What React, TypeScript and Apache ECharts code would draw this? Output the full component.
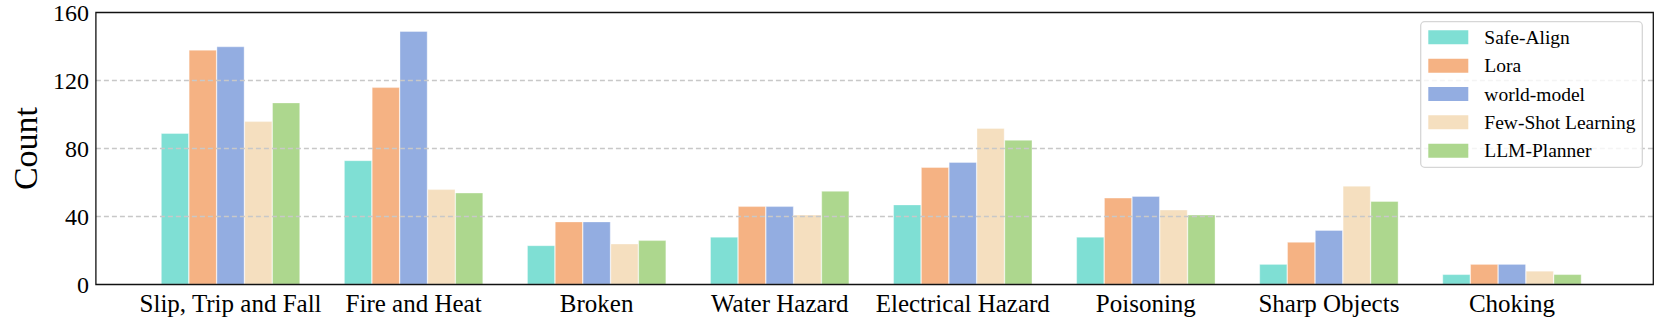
import React, { useEffect, useRef } from "react";
import * as echarts from "echarts";

const categories = [
  "Slip, Trip and Fall",
  "Fire and Heat",
  "Broken",
  "Water Hazard",
  "Electrical Hazard",
  "Poisoning",
  "Sharp Objects",
  "Choking",
];
const seriesNames = ["Safe-Align", "Lora", "world-model", "Few-Shot Learning", "LLM-Planner"];
const safeAlign = [89, 73, 23, 28, 47, 28, 12, 6];
const lora = [138, 116, 37, 46, 69, 51, 25, 12];
const worldModel = [140, 149, 37, 46, 72, 52, 32, 12];
const fewShot = [96, 56, 24, 41, 92, 44, 58, 8];
const llmPlanner = [107, 54, 26, 55, 85, 41, 49, 6];
const yTicks = { min: 0, max: 160, interval: 40 };

const colors = ["#7FDFD4", "#F5B283", "#93ADE1", "#F5DFBF", "#ADD78E"];
const FONT = "'Liberation Serif', 'Times New Roman', serif";

export default function App() {
  const ref = useRef<HTMLDivElement>(null);
  useEffect(() => {
    if (!ref.current) return;
    const chart = echarts.init(ref.current, undefined, { renderer: "svg" });
    const values = [safeAlign, lora, worldModel, fewShot, llmPlanner];
    chart.setOption({
      animation: false,
      backgroundColor: "#ffffff",
      textStyle: { fontFamily: FONT, color: "#000" },
      grid: [
        {
          left: 90,
          right: 6.7,
          top: 12.5,
          bottom: 35.5,
          show: true,
          z: 6,
          backgroundColor: "transparent",
          borderColor: "#111",
          borderWidth: 1.3,
        },
        { left: 139, right: 56.5, top: 12.5, bottom: 35.5 },
      ],
      xAxis: [
        { gridIndex: 0, type: "value", min: 0, max: 1, show: false },
        {
          gridIndex: 1,
          type: "category",
          data: categories,
          axisLine: { show: false },
          axisTick: { show: false },
          axisLabel: {
            interval: 0,
            color: "#000",
            fontFamily: FONT,
            fontSize: 25,
            margin: 6,
          },
        },
      ],
      yAxis: [
        {
          gridIndex: 0,
          type: "value",
          min: yTicks.min,
          max: yTicks.max,
          interval: yTicks.interval,
          z: 3,
          name: "Count",
          nameLocation: "middle",
          nameGap: 53,
          nameTextStyle: { color: "#000", fontFamily: FONT, fontSize: 34 },
          axisLine: { show: false },
          axisTick: { show: false },
          axisLabel: { color: "#000", fontFamily: FONT, fontSize: 24, margin: 7 },
          splitLine: {
            show: true,
            showMinLine: false,
            showMaxLine: false,
            lineStyle: { color: "#c8c8c8", width: 1.3, type: [5, 3] },
          },
        },
        {
          gridIndex: 1,
          type: "value",
          min: yTicks.min,
          max: yTicks.max,
          interval: yTicks.interval,
          show: false,
          splitLine: { show: false },
        },
      ],
      legend: {
        show: true,
        orient: "vertical",
        left: 1428.3,
        top: 27.3,
        padding: 0,
        z: 10,
        icon: "path://M0,0H40V14H0Z M51,7L51,7",
        itemWidth: 51,
        itemHeight: 14,
        itemGap: 8.35,
        itemStyle: { borderWidth: 0 },
        textStyle: {
          color: "#000",
          fontFamily: FONT,
          fontSize: 19.5,
        },
      },
      graphic: [
        {
          type: "rect",
          z: 8,
          shape: { x: 1420.7, y: 21.7, width: 221.6, height: 145.6, r: 4 },
          style: { fill: "rgba(255,255,255,0.8)", stroke: "#d6d6d6", lineWidth: 1.3 },
        },
      ],
      series: seriesNames.map((name, i) => ({
        name,
        type: "bar",
        xAxisIndex: 1,
        yAxisIndex: 1,
        z: 2,
        barWidth: 27.8,
        barGap: "0%",
        data: values[i],
        itemStyle: {
          color: colors[i],
          borderColor: "rgba(255,255,255,0.6)",
          borderWidth: 0.6,
        },
      })),
    });
    return () => chart.dispose();
  }, []);
  return (
    <div
      ref={ref}
      style={{ position: "fixed", left: 0, top: 0, width: 1660, height: 320, background: "#fff" }}
    />
  );
}
